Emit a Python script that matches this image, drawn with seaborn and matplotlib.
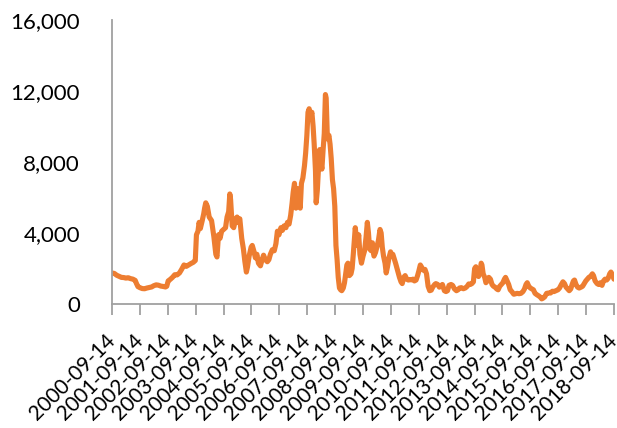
import matplotlib
matplotlib.use("Agg")
import matplotlib.pyplot as plt
from matplotlib.ticker import FuncFormatter
import pandas as pd
import seaborn as sns

# Dry bulk freight index, sampled roughly every two to four weeks
dates = [
    "2000-09-14", "2000-10-15", "2000-11-15", "2000-12-15",
    "2001-01-15", "2001-02-15", "2001-03-15", "2001-04-15", "2001-05-15", "2001-06-15",
    "2001-07-15", "2001-08-01", "2001-08-20", "2001-09-15", "2001-10-15", "2001-11-15", "2001-12-15",
    "2002-01-15", "2002-02-15", "2002-03-15", "2002-04-15", "2002-05-15", "2002-06-15",
    "2002-07-15", "2002-08-15", "2002-09-01", "2002-09-20", "2002-10-15", "2002-11-15", "2002-12-15",
    "2003-01-15", "2003-02-15", "2003-03-15", "2003-04-15", "2003-05-15", "2003-06-15",
    "2003-07-15", "2003-08-15", "2003-09-10", "2003-09-25", "2003-10-15", "2003-10-30",
    "2003-11-15", "2003-12-10", "2003-12-30",
    "2004-01-10", "2004-01-25", "2004-02-15", "2004-03-10", "2004-04-10", "2004-05-10",
    "2004-06-05", "2004-06-20", "2004-07-10", "2004-07-30", "2004-08-20", "2004-09-15",
    "2004-10-10", "2004-10-30", "2004-11-20", "2004-12-05", "2004-12-15",
    "2005-01-05", "2005-01-25", "2005-02-20", "2005-03-10", "2005-03-25", "2005-04-15",
    "2005-05-10", "2005-06-01", "2005-06-20", "2005-07-10", "2005-07-25", "2005-08-15",
    "2005-09-10", "2005-09-25", "2005-10-15", "2005-11-05", "2005-11-25", "2005-12-15",
    "2006-01-10", "2006-02-01", "2006-02-20", "2006-03-15", "2006-04-10", "2006-05-01",
    "2006-05-20", "2006-06-15", "2006-07-10", "2006-08-01", "2006-08-20", "2006-09-10",
    "2006-10-05", "2006-10-25", "2006-11-15", "2006-12-10", "2006-12-30",
    "2007-01-20", "2007-02-10", "2007-03-01", "2007-03-15", "2007-04-01", "2007-04-20",
    "2007-05-10", "2007-06-01", "2007-06-15", "2007-07-01", "2007-07-20", "2007-08-10",
    "2007-08-25", "2007-09-10", "2007-09-25", "2007-10-10", "2007-10-25", "2007-11-15",
    "2007-12-01", "2007-12-15",
    "2008-01-01", "2008-01-10", "2008-01-25", "2008-02-10", "2008-02-25", "2008-03-10",
    "2008-03-25", "2008-04-10", "2008-04-25", "2008-05-10", "2008-05-20", "2008-06-05",
    "2008-06-25", "2008-07-10", "2008-07-25", "2008-08-10", "2008-08-25", "2008-09-10",
    "2008-09-25", "2008-10-10", "2008-10-25", "2008-11-10", "2008-11-25", "2008-12-10",
    "2008-12-30",
    "2009-01-15", "2009-01-30", "2009-02-15", "2009-03-01", "2009-03-20", "2009-04-10",
    "2009-04-25", "2009-05-10", "2009-05-25", "2009-06-05", "2009-06-20", "2009-07-05",
    "2009-07-20", "2009-08-05", "2009-08-25", "2009-09-15", "2009-10-05", "2009-10-25",
    "2009-11-10", "2009-11-25", "2009-12-10", "2009-12-30",
    "2010-01-15", "2010-02-05", "2010-02-25", "2010-03-15", "2010-04-05", "2010-04-25",
    "2010-05-10", "2010-05-25", "2010-06-10", "2010-06-30", "2010-07-15", "2010-08-01",
    "2010-08-20", "2010-09-10", "2010-09-25", "2010-10-10", "2010-10-25", "2010-11-15",
    "2010-12-10",
    "2011-01-05", "2011-01-25", "2011-02-10", "2011-03-01", "2011-03-20", "2011-04-10",
    "2011-05-01", "2011-05-20", "2011-06-10", "2011-07-01", "2011-07-20", "2011-08-10",
    "2011-08-30", "2011-09-15", "2011-10-05", "2011-10-25", "2011-11-15", "2011-12-05",
    "2011-12-25",
    "2012-01-15", "2012-02-05", "2012-02-25", "2012-03-15", "2012-04-10", "2012-04-25",
    "2012-05-20", "2012-06-10", "2012-06-30", "2012-07-20", "2012-08-15", "2012-09-05",
    "2012-09-25", "2012-10-15", "2012-11-10", "2012-12-01", "2012-12-25",
    "2013-01-20", "2013-02-10", "2013-03-01", "2013-03-25", "2013-04-20", "2013-05-15",
    "2013-06-10", "2013-06-30", "2013-07-20", "2013-08-10", "2013-08-30", "2013-09-15",
    "2013-10-01", "2013-10-15", "2013-11-05", "2013-11-25", "2013-12-10", "2013-12-20",
    "2014-01-05", "2014-01-25", "2014-02-10", "2014-03-01", "2014-03-20", "2014-04-10",
    "2014-05-01", "2014-05-20", "2014-06-10", "2014-07-01", "2014-07-20", "2014-08-10",
    "2014-08-30", "2014-09-20", "2014-10-10", "2014-10-25", "2014-11-15", "2014-12-05",
    "2014-12-25",
    "2015-01-15", "2015-02-10", "2015-03-05", "2015-03-25", "2015-04-20", "2015-05-15",
    "2015-06-10", "2015-06-30", "2015-07-20", "2015-08-05", "2015-08-25", "2015-09-15",
    "2015-10-05", "2015-10-25", "2015-11-15", "2015-12-10",
    "2016-01-05", "2016-01-25", "2016-02-10", "2016-02-25", "2016-03-20", "2016-04-15",
    "2016-05-10", "2016-06-05", "2016-06-30", "2016-07-20", "2016-08-15", "2016-09-10",
    "2016-10-01", "2016-10-25", "2016-11-15", "2016-12-05", "2016-12-25",
    "2017-01-15", "2017-02-05", "2017-02-25", "2017-03-15", "2017-04-01", "2017-04-15",
    "2017-05-05", "2017-05-25", "2017-06-15", "2017-07-10", "2017-07-30", "2017-08-20",
    "2017-09-10", "2017-09-30", "2017-10-20", "2017-11-10", "2017-12-05", "2017-12-20",
    "2018-01-10", "2018-02-05", "2018-02-25", "2018-03-20", "2018-04-10", "2018-04-30",
    "2018-05-20", "2018-06-10", "2018-06-30", "2018-07-20", "2018-08-05", "2018-08-25",
    "2018-09-14",
]

index_values = [
    1750, 1720, 1620, 1560,
    1500, 1490, 1460, 1480, 1430, 1400,
    1330, 1150, 980, 920, 870, 860, 900,
    930, 960, 1030, 1080, 1060, 1010,
    990, 960, 1000, 1300, 1380, 1500, 1650,
    1640, 1750, 1950, 2200, 2120, 2200,
    2280, 2350, 2450, 3900, 4100, 4600,
    4250, 4700, 5100,
    5400, 5700, 5500, 4900, 4700, 3800,
    2800, 2650, 3900, 3700, 4100, 4200,
    4300, 4900, 5200, 6200, 5900,
    4400, 4300, 4800, 4900, 4600, 4800,
    3700, 3100, 2400, 1800, 2100, 2700,
    3200, 3300, 3000, 2600, 2800, 2300,
    2150, 2500, 2750, 2500, 2380, 2500,
    2800, 3060, 3000, 3400, 4100, 3900,
    4300, 4150, 4400, 4300, 4600,
    4500, 5000, 5700, 6300, 6800, 5400,
    6500, 6000, 5400, 6800, 7100, 7800,
    8500, 9500, 10800, 11000, 10500, 10800,
    10000, 9000,
    7500, 5700, 6400, 7700, 8700, 8000,
    7600, 8700, 9600, 11800, 11600, 9300,
    9500, 9000, 8200, 7000, 6500, 5500,
    3300, 2500, 1500, 900, 800, 750,
    900,
    1200, 1700, 2200, 2300, 1600, 1700,
    2000, 2800, 3700, 4300, 3700, 3300,
    3900, 2800, 2300, 2700, 3000, 3800,
    4600, 4000, 3100, 3000,
    3450, 2700, 2900, 3200, 3600, 4200,
    4000, 3200, 2700, 2300, 1750, 2100,
    2600, 2940, 2700, 2800, 2600, 2300,
    1900,
    1500, 1250, 1150, 1500, 1600, 1400,
    1350, 1380, 1360, 1400, 1300, 1350,
    1600, 1850, 2200, 2050, 1900, 1950,
    1700,
    1000, 750, 780, 950, 1100, 1150,
    1100, 950, 1000, 1100, 750, 700,
    750, 1050, 1100, 1050, 850,
    750, 800, 900, 920, 860, 900,
    1000, 1130, 1100, 1150, 1250, 2000,
    2100, 1800, 1550, 1800, 2300, 2200,
    1700, 1500, 1200, 1300, 1500, 1400,
    1100, 1000, 950, 850, 800, 1000,
    1100, 1200, 1400, 1500, 1300, 1100,
    800,
    700, 550, 580, 600, 580, 600,
    700, 850, 1100, 1200, 1000, 900,
    850, 800, 600, 520,
    450, 380, 290, 320, 400, 600,
    620, 620, 720, 700, 750, 800,
    900, 1100, 1250, 1150, 950,
    850, 750, 850, 1100, 1300, 1350,
    1100, 950, 900, 950, 1000, 1150,
    1300, 1400, 1500, 1550, 1700, 1600,
    1300, 1150, 1100, 1200, 1050, 1300,
    1400, 1350, 1450, 1700, 1800, 1650,
    1400,
]

tick_labels = [f"{y}-09-14" for y in range(2000, 2019)]

df = pd.DataFrame({"date": pd.to_datetime(dates), "value": index_values})

sns.set_theme(style="white")
plt.rcParams["font.family"] = ["Lato", "DejaVu Sans"]

fig = plt.figure(figsize=(6.17, 4.28), dpi=100)
ax = fig.add_axes([0.1815, 0.2897, 0.8136, 0.6636])

sns.lineplot(data=df, x="date", y="value", ax=ax, color="#ED7D31",
             linewidth=3.7, solid_joinstyle="round", solid_capstyle="round")

ax.set_xlim(pd.Timestamp(tick_labels[0]), pd.Timestamp(tick_labels[-1]))
ax.set_ylim(0, 16000)

ax.set_xticks(pd.to_datetime(tick_labels))
ax.set_xticklabels(tick_labels, rotation=45, ha="right", va="center",
                   rotation_mode="anchor", fontsize=15, color="black")
ax.set_yticks([0, 4000, 8000, 12000, 16000])
ax.yaxis.set_major_formatter(FuncFormatter(lambda v, _: f"{int(v):,}"))
ax.set_yticks([0, 16000], minor=True)

ax.tick_params(axis="x", which="major", length=8, width=1.3, color="#A0A0A0",
               direction="out", pad=16, bottom=True)
ax.tick_params(axis="y", which="major", length=0, pad=23, labelsize=16,
               labelcolor="black")
ax.tick_params(axis="y", which="minor", length=9, width=1.3, color="#A0A0A0",
               direction="out", left=True)

for side in ("top", "right"):
    ax.spines[side].set_visible(False)
for side in ("left", "bottom"):
    ax.spines[side].set_color("#A0A0A0")
    ax.spines[side].set_linewidth(1.3)

ax.set_xlabel("")
ax.set_ylabel("")
ax.grid(False)

fig.savefig("out.png", dpi=100, facecolor="white")
